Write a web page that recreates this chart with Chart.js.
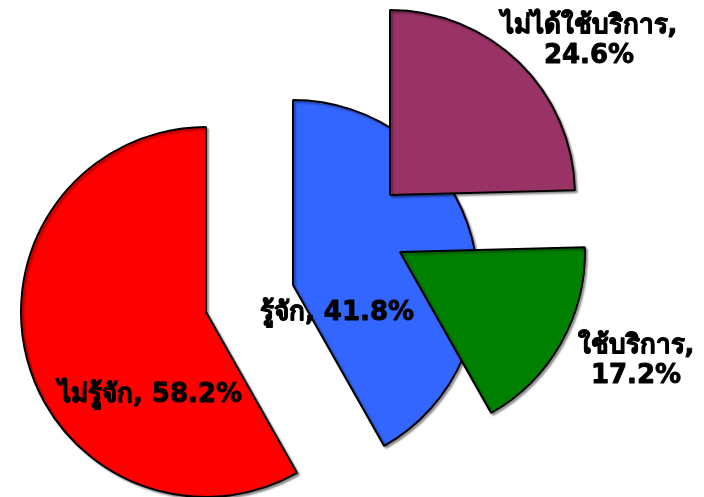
<!DOCTYPE html>
<html>
<head>
<meta charset="utf-8">
<script src="https://cdn.jsdelivr.net/npm/chart.js@4.4.0/dist/chart.umd.min.js"></script>
<style>
  html, body { margin: 0; padding: 0; background: #fff; }
  #wrap { position: relative; width: 704px; height: 497px; }
  #wrap canvas { position: absolute; left: 0; top: 0; }
</style>
</head>
<body>
<div id="wrap">
  <canvas id="pieRed" width="704" height="497"></canvas>
  <canvas id="pieBlue" width="704" height="497"></canvas>
  <canvas id="piePurple" width="704" height="497"></canvas>
  <canvas id="pieGreen" width="704" height="497"></canvas>
</div>
<script>
// ข้อมูลการรู้จัก / การใช้บริการ (%)
const awareLabels = ['รู้จัก', 'ไม่รู้จัก'];
const awareValues = [41.8, 58.2];
const useLabels = ['ไม่ได้ใช้บริการ', 'ใช้บริการ'];
const useValues = [24.6, 17.2];

const W = 704, H = 497;
const RADIUS = 185;
const FONT = 'bold 26px "DejaVu Sans", Tahoma, sans-serif';

// จุดศูนย์กลางของแต่ละชิ้นที่ถูกดึงออก
const centers = {
    red: [206, 312],
    blue: [293, 285],
    purple: [390, 195],
    green: [400, 252]
};

function paddingFor(c) {
    const [cx, cy] = c;
    return {
        left: Math.max(0, 2 * cx - W),
        right: Math.max(0, W - 2 * cx),
        top: Math.max(0, 2 * cy - H),
        bottom: Math.max(0, H - 2 * cy)
    };
}

// เงาจาง ๆ ใต้ชิ้นพาย
const shadowPlugin = {
    id: 'sliceShadow',
    beforeDatasetsDraw(chart) {
        const ctx = chart.ctx;
        ctx.save();
        ctx.shadowColor = 'rgba(0,0,0,0.35)';
        ctx.shadowBlur = 2;
        ctx.shadowOffsetX = 2;
        ctx.shadowOffsetY = 2;
    },
    afterDatasetsDraw(chart) {
        chart.ctx.restore();
    }
};

function makePie(id, values, colors, center, extra) {
    const ctx = document.getElementById(id).getContext('2d');
    return new Chart(ctx, {
        type: 'pie',
        data: {
            labels: values.map((v, i) => String(i)),
            datasets: [{
                data: values,
                backgroundColor: colors,
                borderColor: '#000',
                borderWidth: colors.map(c => c === 'transparent' ? 0 : 2),
                radius: RADIUS,
                clip: false
            }]
        },
        options: {
            responsive: false,
            animation: false,
            layout: { padding: paddingFor(center) },
            plugins: { legend: { display: false }, tooltip: { enabled: false } }
        },
        plugins: [shadowPlugin].concat(extra || [])
    });
}

// ป้ายข้อความ
const labelItems = [
    { lines: [`${awareLabels[1]}, ${awareValues[1]}%`], x: 150, y: 402 },
    { lines: [`${awareLabels[0]}, ${awareValues[0]}%`], x: 337, y: 320 },
    { lines: [`${useLabels[0]},`, `${useValues[0]}%`], x: 589, y: 33 },
    { lines: [`${useLabels[1]},`, `${useValues[1]}%`], x: 636, y: 353 }
];

const labelPlugin = {
    id: 'sliceLabels',
    afterDraw(chart) {
        const ctx = chart.ctx;
        ctx.save();
        ctx.font = FONT;
        ctx.fillStyle = '#000';
        ctx.strokeStyle = '#000';
        ctx.lineWidth = 0.9;
        ctx.lineJoin = 'round';
        ctx.textAlign = 'center';
        ctx.textBaseline = 'alphabetic';
        labelItems.forEach(item => {
            item.lines.forEach((line, i) => {
                ctx.fillText(line, item.x, item.y + i * 30);
                ctx.strokeText(line, item.x, item.y + i * 30);
            });
        });
        ctx.restore();
    }
};

const T = 'transparent';
const useAll = [useValues[0], useValues[1], awareValues[1]];

makePie('pieRed', awareValues, [T, '#FF0000'], centers.red);
makePie('pieBlue', awareValues, ['#3366FF', T], centers.blue);
makePie('piePurple', useAll, ['#993366', T, T], centers.purple);
makePie('pieGreen', useAll, [T, '#008000', T], centers.green, [labelPlugin]);
</script>
</body>
</html>
